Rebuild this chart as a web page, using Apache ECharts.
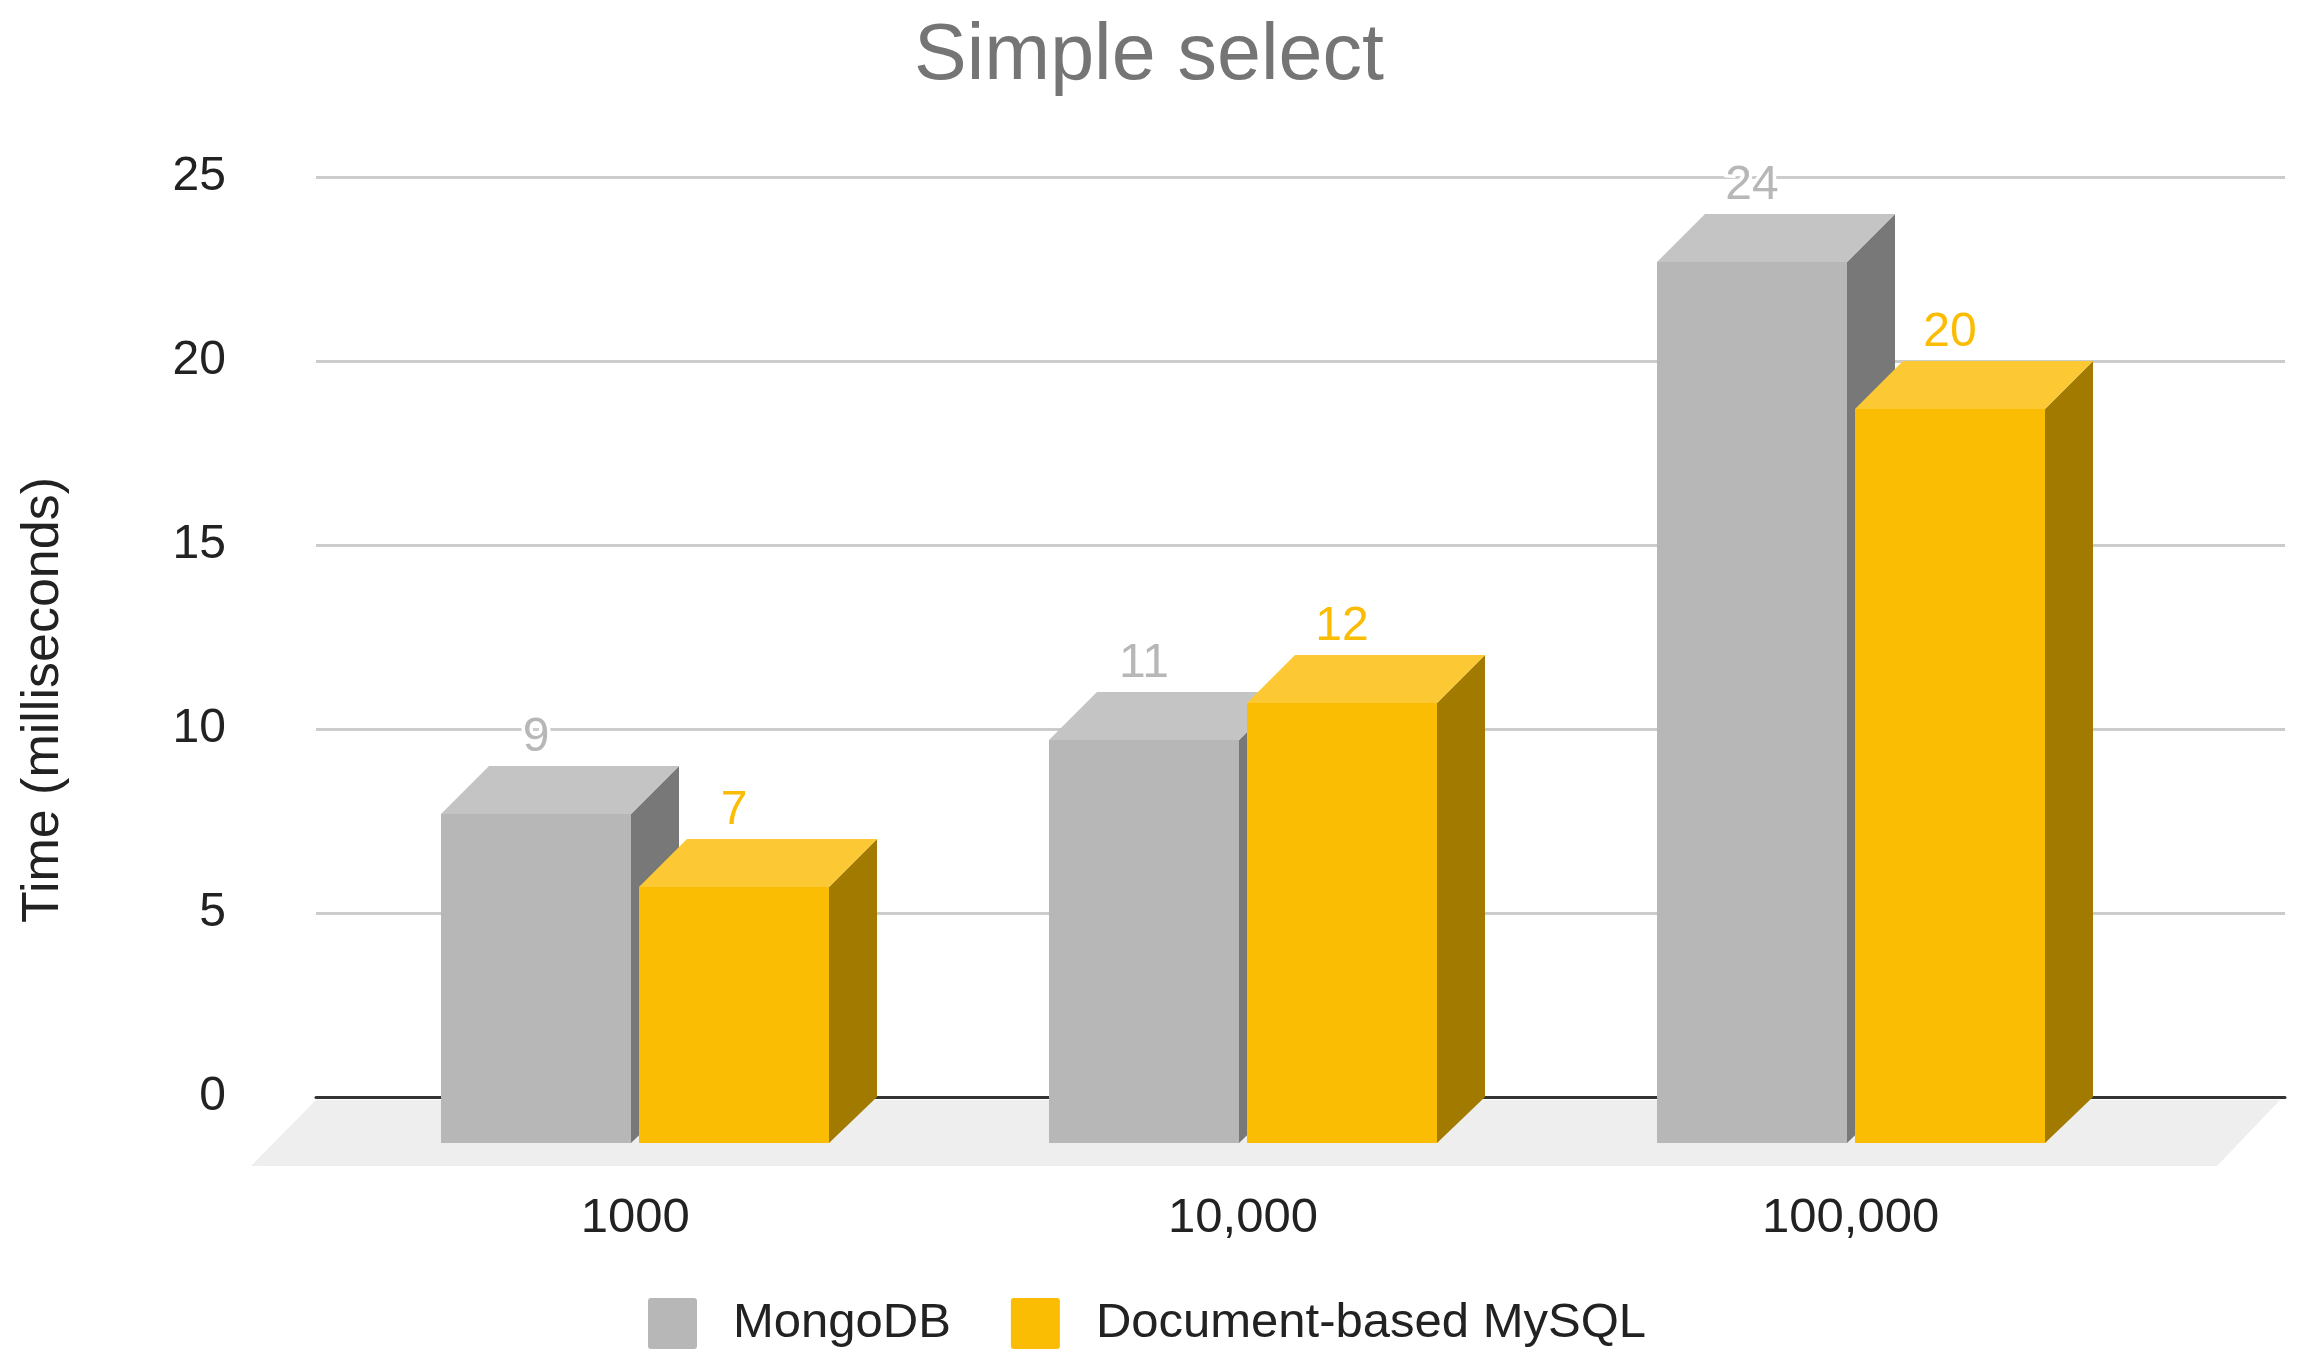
<!DOCTYPE html>
<html>
<head>
<meta charset="utf-8">
<title>Simple select</title>
<style>
  html, body { margin: 0; padding: 0; background: #fff; }
  #chart { width: 2307px; height: 1367px; }
</style>
<script src="https://cdn.jsdelivr.net/npm/echarts@6/dist/echarts.min.js"></script>
</head>
<body>
<div id="chart"></div>
<script>
// ── Data ──────────────────────────────────────────────────────────────────────

const categories   = ['1000', '10,000', '100,000'];
const mongoValues  = [9, 11, 24];
const mysqlValues  = [7, 12, 20];
const seriesNames  = ['MongoDB', 'Document-based MySQL'];
const yTicks       = { min: 0, max: 25, interval: 5 };

// ── Look ──────────────────────────────────────────────────────────────────────

const FONT     = '"Liberation Sans", Arial, sans-serif';
const FONT_SZ  = 48;
const BAR_W    = 190;   // front face width
const BAR_GAP  = 8;     // gap between the two bars of a group
const DEPTH_X  = 48;    // 3D offset of the front face from the value plane
const DEPTH_Y  = 48;
const FOOT_Y   = 46;    // front face bottom, below the zero line

const GREY   = { front: '#b7b7b7', top: '#c4c4c4', side: '#787878' };
const YELLOW = { front: '#fbbc04', top: '#fcc934', side: '#a37a00' };

// Small-radius swatch, the built-in roundRect is too round
const SWATCH = 'path://M3,0 H46 Q49,0 49,3 V48 Q49,51 46,51 H3 Q0,51 0,48 V3 Q0,0 3,0 Z';

// ── 3D bars ───────────────────────────────────────────────────────────────────

// The value sits on the back plane, the front face is pushed down-left of it.
// Rounded to whole pixels, otherwise the bar behind bleeds through the edges.
function bar3d(colors, side) {
  return (params, api) => {
    const coord = api.coord([api.value(0), api.value(1)]);
    const topY  = Math.round(coord[1]);
    const baseY = Math.round(api.coord([api.value(0), 0])[1]);
    const left  = Math.round(side < 0 ? coord[0] - BAR_GAP / 2 - BAR_W : coord[0] + BAR_GAP / 2);
    const right = left + BAR_W;
    const fTop  = topY + DEPTH_Y;
    const fBot  = baseY + FOOT_Y;

    return {
      type: 'group',
      children: [
        { type: 'polygon', shape: { points: [[right, fTop], [right + DEPTH_X, topY], [right + DEPTH_X, baseY], [right, fBot]] },
          style: { fill: colors.side } },
        { type: 'polygon', shape: { points: [[left, fTop], [left + DEPTH_X, topY], [right + DEPTH_X, topY], [right, fTop]] },
          style: { fill: colors.top } },
        { type: 'rect', shape: { x: left, y: fTop, width: BAR_W, height: fBot - fTop },
          style: { fill: colors.front } },
        { type: 'text',
          style: {
            text: String(api.value(1)),
            x: (left + right) / 2, y: topY - 28,
            align: 'center', verticalAlign: 'middle',
            fontFamily: FONT, fontSize: FONT_SZ,
            fill: colors.front, stroke: '#fff', lineWidth: 7,
          } },
      ],
    };
  };
}

// Grey floor under the zero line
function renderFloor(params) {
  const { x, y, width, height } = params.coordSys;
  const b = y + height;
  return {
    type: 'polygon',
    shape: { points: [[x, b + 3], [x + width - 5, b + 3], [x + width - 68, b + 69], [x - 65, b + 69]] },
    style: { fill: '#eeeeee' },
  };
}

// ── Chart ─────────────────────────────────────────────────────────────────────

const chart = echarts.init(document.getElementById('chart'), null, { renderer: 'canvas' });

const plotTop = 177, plotHeight = 920;

chart.setOption({
  animation: false,
  backgroundColor: '#fff',
  title: {
    text: 'Simple select',
    left: 1144, top: 13, textAlign: 'center',
    textStyle: { color: '#757575', fontFamily: FONT, fontSize: 79, fontWeight: 'normal' },
  },
  legend: {
    left: 648, top: 1298, padding: 0,
    itemWidth: 49, itemHeight: 51, itemGap: 60,
    icon: SWATCH,
    data: [
      { name: seriesNames[0], itemStyle: { color: GREY.front } },
      { name: seriesNames[1], itemStyle: { color: YELLOW.front } },
    ],
    textStyle: { color: '#222', fontFamily: FONT, fontSize: 49, padding: [0, 0, 0, 31] },
  },
  // grid 0 carries the gridlines and floor, grid 1 spaces out the bar groups
  grid: [
    { left: 316, width: 1969, top: plotTop, height: plotHeight, outerBoundsMode: 'none' },
    { left: 331.5, width: 1823, top: plotTop, height: plotHeight, outerBoundsMode: 'none' },
  ],
  xAxis: [
    { type: 'category', gridIndex: 0, data: categories,
      axisLine: { lineStyle: { color: '#333', width: 3 } },
      axisTick: { show: false }, axisLabel: { show: false } },
    { type: 'category', gridIndex: 1, data: categories,
      axisLine: { show: false }, axisTick: { show: false },
      axisLabel: { color: '#222', fontFamily: FONT, fontSize: 49, margin: 97 } },
  ],
  yAxis: [
    { type: 'value', gridIndex: 0, ...yTicks,
      name: 'Time (milliseconds)', nameLocation: 'middle', nameGap: 246,
      nameTextStyle: { color: '#222', fontFamily: FONT, fontSize: 52, padding: [0, 126, 0, 0] },
      axisLine: { show: false }, axisTick: { show: false },
      axisLabel: { color: '#222', fontFamily: FONT, fontSize: FONT_SZ, margin: 90, padding: [5, 0, 0, 0] },
      splitLine: { lineStyle: { color: '#cccccc', width: 3 } } },
    { type: 'value', gridIndex: 1, ...yTicks, show: false, splitLine: { show: false } },
  ],
  series: [
    { type: 'custom', name: 'floor', xAxisIndex: 0, yAxisIndex: 0, silent: true, z: 1,
      data: [[0, 0]], encode: { x: 0, y: 1 }, renderItem: renderFloor },
    { type: 'custom', name: seriesNames[0], xAxisIndex: 1, yAxisIndex: 1, z: 3,
      itemStyle: { color: GREY.front },
      data: mongoValues.map((v, i) => [i, v]), encode: { x: 0, y: 1 },
      renderItem: bar3d(GREY, -1) },
    { type: 'custom', name: seriesNames[1], xAxisIndex: 1, yAxisIndex: 1, z: 4,
      itemStyle: { color: YELLOW.front },
      data: mysqlValues.map((v, i) => [i, v]), encode: { x: 0, y: 1 },
      renderItem: bar3d(YELLOW, 1) },
  ],
});
</script>
</body>
</html>
